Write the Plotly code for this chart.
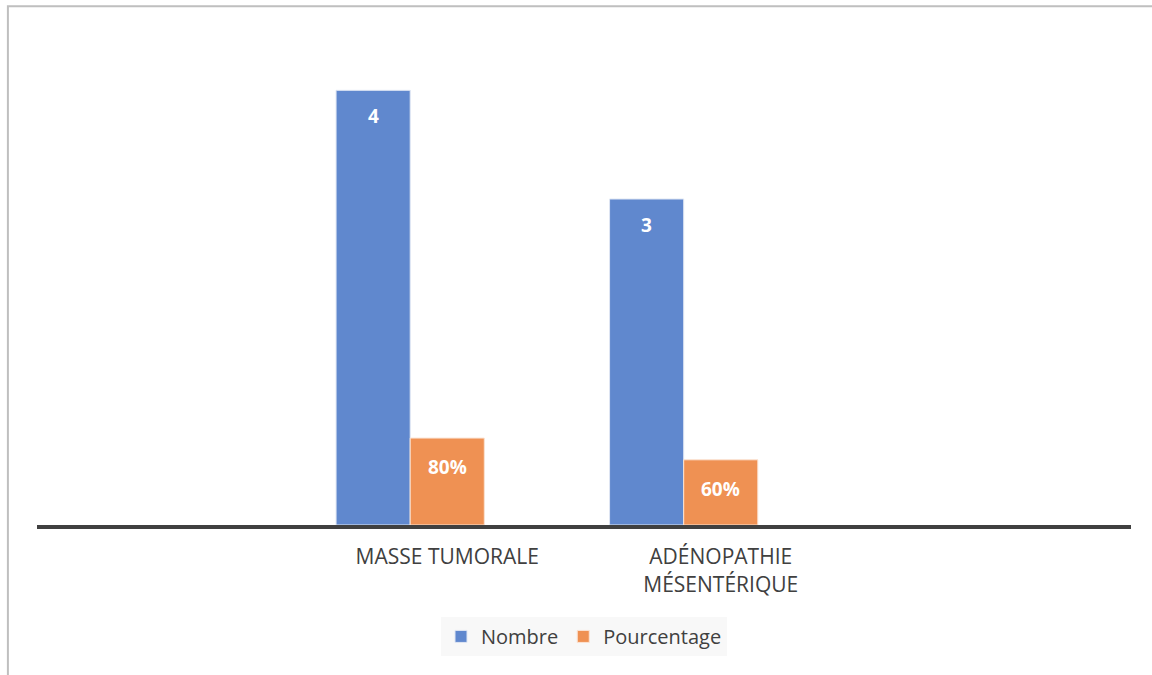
import plotly.graph_objects as go

# Category slots (outer slots are empty, as in the original sheet)
categories = ["", "MASSE TUMORALE", "ADÉNOPATHIE<br>MÉSENTÉRIQUE", ""]
nombre = [None, 4, 3, None]
pourcentage = [None, 0.8, 0.6, None]
pourcentage_labels = [None, "80%", "60%", None]

BLUE = "#6088CE"
ORANGE = "#EF9153"
TEXT = "#404040"
FONT = "'Open Sans', sans-serif"

positions = list(range(len(categories)))

# Each category slot holds room for three bars; the two series use the left two
BAR_W = 0.271
OFF_NOMBRE = -1.5 * BAR_W
OFF_POURC = -0.5 * BAR_W

fig = go.Figure()
fig.add_bar(x=positions, y=nombre, name="Nombre", width=BAR_W, offset=OFF_NOMBRE,
            marker=dict(color=BLUE, line=dict(color="#dfe6f3", width=1)))
fig.add_bar(x=positions, y=pourcentage, name="Pourcentage", width=BAR_W, offset=OFF_POURC,
            marker=dict(color=ORANGE, line=dict(color="#fbe3d3", width=1)))

annotations = []
for i, v in enumerate(nombre):
    if v is not None:
        annotations.append(dict(x=i + OFF_NOMBRE + BAR_W / 2, y=v, text=f"<b>{v}</b>", showarrow=False,
                                yshift=-26, font=dict(color="white", size=19, family=FONT)))
for i, (v, lab) in enumerate(zip(pourcentage, pourcentage_labels)):
    if v is not None:
        annotations.append(dict(x=i + OFF_POURC + BAR_W / 2, y=v, text=f"<b>{lab}</b>", showarrow=False,
                                yshift=-29, font=dict(color="white", size=19, family=FONT)))

fig.update_layout(
    width=1152, height=675,
    margin=dict(l=37, r=21, t=36, b=150),
    paper_bgcolor="white", plot_bgcolor="white",
    barmode="overlay",
    font=dict(family=FONT, color=TEXT, size=20),
    showlegend=True,
    legend=dict(orientation="h", x=0.5, xanchor="center", y=-0.188, yanchor="top",
                bgcolor="#f8f8f8", font=dict(size=20, color=TEXT),
                itemwidth=30, traceorder="normal"),
    annotations=annotations,
    shapes=[dict(type="rect", xref="paper", yref="paper", x0=-0.0266, x1=1.3, y0=-0.6, y1=1.061,
                 line=dict(color="#bfbfbf", width=2), fillcolor="rgba(0,0,0,0)", layer="below")],
)
fig.update_xaxes(range=[-0.5, len(categories) - 0.5], tickmode="array", tickvals=positions,
                 ticktext=categories, showline=True, linewidth=4, linecolor=TEXT,
                 ticks="", showgrid=False, zeroline=False, fixedrange=True,
                 ticklabelstandoff=10, tickfont=dict(size=21, color=TEXT))
fig.update_yaxes(range=[0, 4.5], visible=False, showgrid=False, zeroline=False)

fig.write_html("out.html")
